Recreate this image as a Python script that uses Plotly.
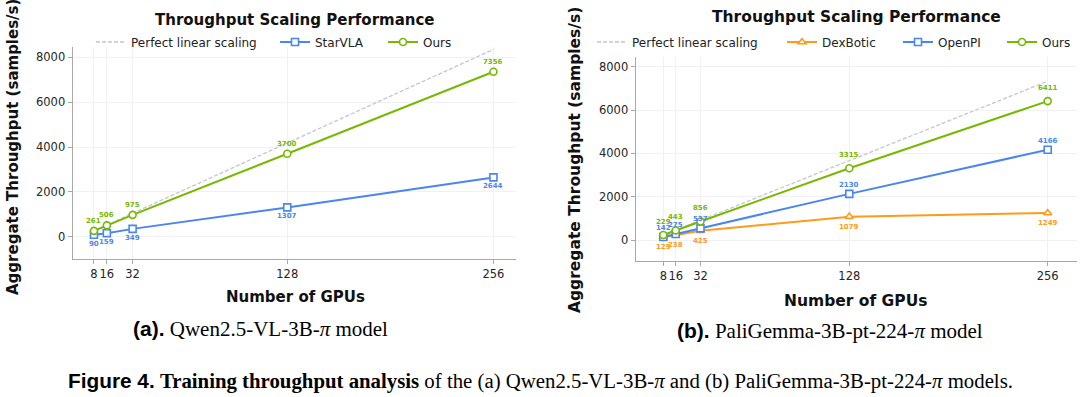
import plotly.graph_objects as go

W, H = 1080, 397

gpus = [8, 16, 32, 128, 256]
gpu_ticks = [8, 16, 32, 128, 256]
y_ticks = [0, 2000, 4000, 6000, 8000]

# Panel (a): Qwen2.5-VL-3B-pi
a_perfect = [261, 522, 1044, 4176, 8352]
a_starvla = [90, 159, 349, 1307, 2644]
a_ours = [261, 506, 975, 3700, 7356]

# Panel (b): PaliGemma-3B-pt-224-pi
b_perfect = [229, 458, 916, 3664, 7328]
b_dexbotic = [129, 238, 425, 1079, 1249]
b_openpi = [142, 275, 537, 2130, 4166]
b_ours = [229, 443, 856, 3315, 6411]

GREEN = "#76B900"
BLUE = "#4A86F0"
ORANGE = "#FF9B1A"
GRAY = "#C5C6D0"
FONT = "DejaVu Sans"

fig = go.Figure()


def add_series(x, y, name, color, symbol, xa, ya, legend):
    fig.add_trace(go.Scatter(
        x=x, y=y, name=name, mode="lines+markers",
        line=dict(color=color, width=2),
        marker=dict(symbol=symbol, size=7, color="white",
                    line=dict(color=color, width=1.6)),
        xaxis=xa, yaxis=ya, legend=legend, showlegend=True, cliponaxis=False))


def add_perfect(x, y, xa, ya, legend):
    fig.add_trace(go.Scatter(
        x=x, y=y, name="Perfect linear scaling", mode="lines",
        line=dict(color=GRAY, width=1.3, dash="4px,2px"),
        xaxis=xa, yaxis=ya, legend=legend, showlegend=True))


def add_labels(x, y, color, shift, xa, ya):
    for xi, yi in zip(x, y):
        fig.add_annotation(x=xi, y=yi, xref=xa, yref=ya, text=f"<b>{yi}</b>",
                           showarrow=False, yshift=shift,
                           font=dict(family=FONT, size=7, color=color))


# Panel (a)
add_perfect(gpus, a_perfect, "x", "y", "legend")
add_series(gpus, a_starvla, "StarVLA", BLUE, "square", "x", "y", "legend2")
add_series(gpus, a_ours, "Ours", GREEN, "circle", "x", "y", "legend3")
add_labels(gpus, a_ours, GREEN, 10, "x", "y")
add_labels(gpus, a_starvla, BLUE, -9, "x", "y")

# Panel (b)
add_perfect(gpus, b_perfect, "x2", "y2", "legend4")
add_series(gpus, b_dexbotic, "DexBotic", ORANGE, "triangle-up", "x2", "y2", "legend5")
add_series(gpus, b_openpi, "OpenPI", BLUE, "square", "x2", "y2", "legend6")
add_series(gpus, b_ours, "Ours", GREEN, "circle", "x2", "y2", "legend7")
add_labels(gpus, b_ours, GREEN, 13.5, "x2", "y2")
add_labels(gpus, b_openpi, BLUE, 9, "x2", "y2")
add_labels(gpus, b_dexbotic, ORANGE, -10, "x2", "y2")


def px(x):
    return x / W


def py(y):
    return 1 - y / H


axis_common = dict(
    showline=True, linecolor="#A8A8A8", linewidth=1.3,
    ticks="outside", ticklen=4, tickwidth=1, tickcolor="#A8A8A8",
    showgrid=True, gridcolor="#F1F1F3", gridwidth=1, tickangle=0,
    zeroline=False, tickfont=dict(family=FONT, size=11.5, color="#262626"),
)


def legend_at(xpix):
    return dict(orientation="h", x=px(xpix - 6), y=py(42), xanchor="left", yanchor="middle",
                bgcolor="rgba(0,0,0,0)", font=dict(family=FONT, size=12, color="#222"),
                visible=True)


fig.update_layout(
    width=W, height=H,
    showlegend=True,
    margin=dict(l=0, r=0, t=0, b=0),
    paper_bgcolor="white", plot_bgcolor="white",
    font=dict(family=FONT, color="#222"),
    xaxis=dict(domain=[px(72.7), px(516)], range=[-5.2, 270], anchor="y",
               tickmode="array", tickvals=gpu_ticks, **axis_common),
    yaxis=dict(domain=[py(258.7), py(46.7)], range=[-981, 8473], anchor="x",
               tickmode="array", tickvals=y_ticks, **axis_common),
    xaxis2=dict(domain=[px(635.7), px(1077)], range=[-9.8, 274.9], anchor="y2",
                tickmode="array", tickvals=gpu_ticks, **axis_common),
    yaxis2=dict(domain=[py(261), py(56.7)], range=[-969, 8461], anchor="x2",
                tickmode="array", tickvals=y_ticks, **axis_common),
    legend=legend_at(97),
    legend2=legend_at(281),
    legend3=legend_at(389),
    legend4=legend_at(598),
    legend5=legend_at(788),
    legend6=legend_at(904),
    legend7=legend_at(1008),
)

# Titles, axis titles
def txt(x, y, text, size, family=FONT, color="#111", angle=0):
    fig.add_annotation(x=px(x), y=py(y), xref="paper", yref="paper", text=text,
                       showarrow=False, textangle=angle, xanchor="center", yanchor="middle",
                       font=dict(family=family, size=size, color=color))

txt(295, 20, "<b>Throughput Scaling Performance</b>", 15)
txt(856, 17, "<b>Throughput Scaling Performance</b>", 15.5)
txt(295, 297, "<b>Number of GPUs</b>", 15)
txt(856, 301, "<b>Number of GPUs</b>", 15.5)
txt(13, 147, "<b>Aggregate Throughput (samples/s)</b>", 15, angle=-90)
txt(575, 160, "<b>Aggregate Throughput (samples/s)</b>", 15.5, angle=-90)

SERIF = "Liberation Serif"
SANS_B = "<span style='font-family:Liberation Sans'><b>%s</b></span>"
txt(260, 329, (SANS_B % "(a).") + " Qwen2.5-VL-3B-<i>π</i> model", 21, family=SERIF, color="#000")
txt(830, 331, (SANS_B % "(b).") + " PaliGemma-3B-pt-224-<i>π</i> model", 21, family=SERIF, color="#000")
txt(540, 381, "<span style='font-family:Liberation Sans Narrow, Liberation Sans'><b>Figure 4.</b></span>"
    " <b>Training throughput analysis</b> of the (a) Qwen2.5-VL-3B-<i>π</i> and "
    "(b) PaliGemma-3B-pt-224-<i>π</i> models.", 20.8, family=SERIF, color="#000")

fig.write_html("out.html", post_script="document.body.style.margin='0';",
               config={"displayModeBar": False})
